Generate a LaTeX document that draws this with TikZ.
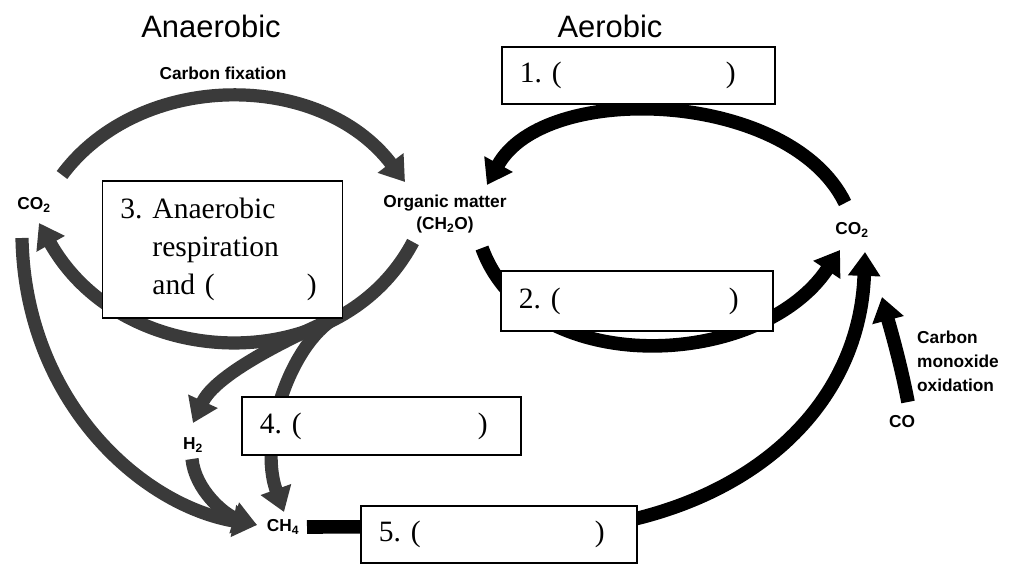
\documentclass[tikz,border=0pt]{standalone}
\usepackage{fontspec}
\setmainfont{Liberation Sans}
\newfontfamily\boxfont{Liberation Serif}
\usepackage{tikz}
\usetikzlibrary{positioning,arrows.meta,calc}
\definecolor{CycleGrey}{HTML}{3A3A3A}

\begin{document}
\begin{tikzpicture}[x=0.025cm,y=-0.025cm,
 lbl/.style={inner sep=0pt,align=center,font=\bfseries\fontsize{12.3}{16}\selectfont},
 side/.style={inner sep=0pt,font=\fontsize{22}{26}\selectfont},
 blank/.style={draw,fill=white,line width=0.8pt,inner xsep=0.45cm,inner ysep=0pt,align=left,font=\boxfont\fontsize{21}{27}\selectfont},
 anaflow/.style={draw=CycleGrey,line width=0.33cm,-{Triangle[length=17pt,width=22pt]}},
 aeroflow/.style={draw=black,line width=0.34cm,-{Triangle[length=17pt,width=22pt]}}]
\useasboundingbox (0,0) rectangle (1014,564);
\node[side] (ana) at (211,26) {Anaerobic};
\node[side] (aer) at (610,26) {Aerobic};
\node[lbl] (fix) at (223,73) {Carbon fixation};
\node[lbl] (co2l) at (34,205) {CO\textsubscript{2}};
\node[lbl] (org) at (445,214) {Organic matter\\(CH\textsubscript{2}O)};
\node[lbl] (co2r) at (852,230) {CO\textsubscript{2}};
\node[lbl] (h2) at (193,445) {H\textsubscript{2}};
\node[lbl] (ch4) at (283,527) {CH\textsubscript{4}};
\node[lbl] (co) at (902,422) {CO};
\node[lbl,align=left,font=\bfseries\fontsize{12.3}{17}\selectfont] (cmo) at (958,361) {Carbon\\monoxide\\oxidation};
\coordinate (split) at (335,318);
\draw[anaflow] ([shift={(28,-30)}]co2l.center) .. controls (140,70) and (320,70) .. ([shift={(-40,-32)}]org.center);
\draw[aeroflow] ([shift={(-7,-27)}]co2r.center) .. controls (790,90) and (545,80) .. ([shift={(42,-29)}]org.center);
\draw[aeroflow] ([shift={(37,34)}]org.center) .. controls (530,380) and (760,370) .. ([shift={(-12,20)}]co2r.center);
\draw[anaflow] ([shift={(-32,28)}]org.center) .. controls (340,380) and (123,373) .. ([shift={(5,18)}]co2l.center);
\draw[anaflow] ([shift={(-12,33)}]co2l.center) .. controls (25,400) and (140,505) .. ([shift={(-26,-2)}]ch4.center);
\draw[anaflow] ([shift={(-1,14)}]h2.center) .. controls (195,490) and (225,515) .. ([shift={(-26,-2)}]ch4.center);
\draw[anaflow] (split) .. controls (285,340) and (215,375) .. ([shift={(0,-22)}]h2.center);
\draw[anaflow] (split) .. controls (290,345) and (258,440) .. ([shift={(1,-15)}]ch4.center);
\draw[aeroflow] ([shift={(24,0)}]ch4.center) -- (600,526) .. controls (760,500) and (860,400) .. ([shift={(13,22)}]co2r.center);
\draw[aeroflow] ([shift={(6,-20)}]co.center) .. controls (900,360) and (888,320) .. ([shift={(30,67)}]co2r.center);
\node[blank,text width=5.925cm,minimum height=1.425cm] (q1) at (638.5,75.5) {1.\ (\hspace{4.1cm})};
\node[blank,text width=5.9cm,minimum height=1.5cm] (q2) at (637,301) {2.\ (\hspace{4.2cm})};
\node[blank,text width=5.1cm,minimum height=3.425cm] (q3) at (222.5,249.5) {3.\ Anaerobic\\\hspace*{0.8cm}respiration\\\hspace*{0.8cm}and (\hspace{2.3cm})};
\node[blank,text width=6.075cm,minimum height=1.45cm] (q4) at (381.5,426) {4.\ (\hspace{4.4cm})};
\node[blank,text width=6cm,minimum height=1.425cm] (q5) at (499,534.5) {5.\ (\hspace{4.35cm})};
\end{tikzpicture}
\end{document}
